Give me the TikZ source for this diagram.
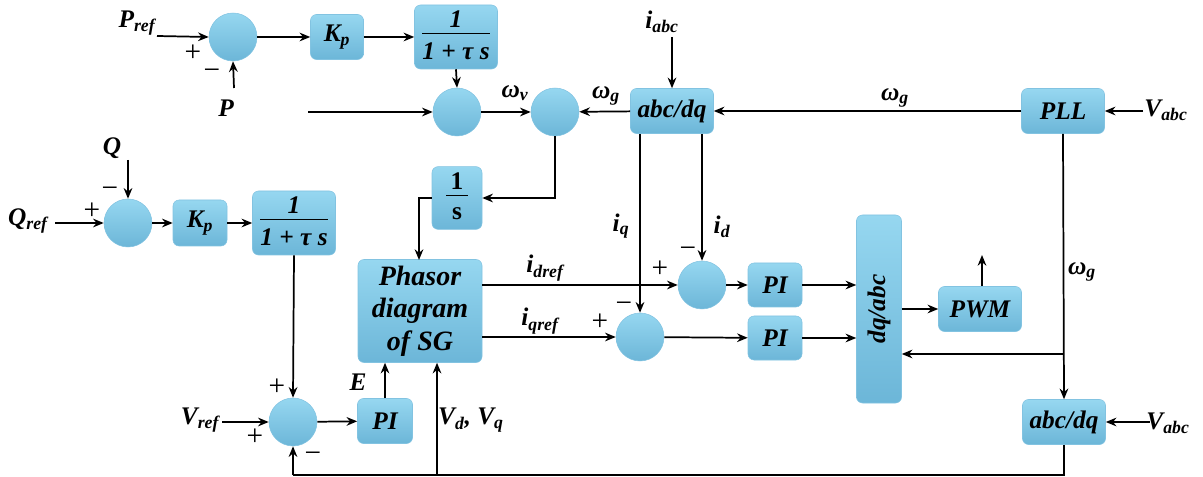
\documentclass[tikz,border=0pt]{standalone}
\usepackage{fontspec}
\setmainfont{Liberation Serif}
\usetikzlibrary{arrows.meta,calc}
\definecolor{boxtop}{RGB}{150,215,240}
\definecolor{boxbot}{RGB}{108,182,216}
\definecolor{boxedge}{RGB}{130,195,225}
\newcommand\dfont{\fontsize{19}{24}\selectfont\bfseries\itshape}
\newcommand\sgfont{\fontsize{22}{24}\selectfont}
\newcommand\sbx[1]{\textsubscript{#1}}
\newcommand\frc{{\setlength\arrayrulewidth{0.8pt}\begin{tabular}{@{}c@{}}1\\[-3pt]\hline\rule{0pt}{19pt}1 + τ s\end{tabular}}}
\begin{document}
\begin{tikzpicture}[x=0.75pt,y=-0.75pt,
  blk/.style={rounded corners=4.5pt, top color=boxtop, bottom color=boxbot, draw=boxedge, line width=0.4pt, inner sep=0pt, font=\dfont},
  sumc/.style={circle, minimum size=36pt, inner sep=0pt, top color=boxtop, bottom color=boxbot, draw=boxedge, line width=0.4pt},
  arr/.style={-{Stealth[length=8pt,width=6.5pt]}, line width=1.3pt},
  ln/.style={line width=1.3pt},
  lbl/.style={font=\dfont, inner sep=0pt},
  sgn/.style={font=\sgfont, inner sep=0pt}]
\useasboundingbox (0,0) rectangle (1203,477);
% sums
\node[sumc] (sP) at (233,37) {};
\node[sumc] (sW1) at (457,112) {};
\node[sumc] (sW2) at (555,112) {};
\node[sumc] (sQ) at (128,223) {};
\node[sumc] (sD) at (702,285) {};
\node[sumc] (sQq) at (640,337) {};
\node[sumc] (sV) at (293,422) {};
% blocks
\node[blk, minimum width=39.75pt, minimum height=33.75pt] (kp1) at (337,37) {K\sbx{p}};
\node[blk, minimum width=62.25pt, minimum height=45pt] (tf1) at (456,37) {\frc};
\node[blk, minimum width=62.25pt, minimum height=33.75pt] (abc1) at (672,111) {abc/dq};
\node[blk, minimum width=62.25pt, minimum height=33.75pt] (pll) at (1063,111) {PLL};
\node[blk, minimum width=37.5pt, minimum height=45pt, font=\fontsize{19}{24}\selectfont\bfseries] (invs) at (457,198) {{\setlength\arrayrulewidth{0.8pt}\begin{tabular}{@{\,}c@{\,}}1\\[-3pt]\hline\rule{0pt}{18pt}s\end{tabular}}};
\node[blk, minimum width=93pt, minimum height=77.25pt, align=center, font=\fontsize{21}{24.5}\selectfont\bfseries\itshape] (ph) at (420,311) {Phasor\\diagram\\of SG};
\node[blk, minimum width=40.5pt, minimum height=33pt] (pi1) at (775,285) {PI};
\node[blk, minimum width=40.5pt, minimum height=33pt] (pi2) at (775,338) {PI};
\node[blk, minimum width=33.75pt, minimum height=141pt] (dq) at (879,309) {};
\node[lbl, rotate=90] (dqt) at (dq) {dq/abc};
\node[blk, minimum width=62.25pt, minimum height=33.75pt] (pwm) at (980,309) {PWM};
\node[blk, minimum width=62.25pt, minimum height=33.75pt] (abc2) at (1064,422) {abc/dq};
\node[blk, minimum width=40.5pt, minimum height=34.5pt] (kp2) at (200,223) {K\sbx{p}};
\node[blk, minimum width=62.25pt, minimum height=45pt] (tf2) at (294,223) {\frc};
\node[blk, minimum width=41.25pt, minimum height=33.75pt] (pi3) at (385,421) {PI};
% free ends
\coordinate (pref) at (157,36);
\coordinate (pin) at (234,88);
\coordinate (win) at (308,112);
\coordinate (iabc) at (672,37);
\coordinate (vabc1) at (1143,111);
\coordinate (pwmo) at (982,255);
\coordinate (vabc2) at (1150,422);
\coordinate (qin) at (128,160);
\coordinate (qref) at (55,223);
\coordinate (vref) at (222,422);
\coordinate (br1) at (1063,354);
\coordinate (bot) at (1064,475);
\coordinate (br2) at (437,475);
% labels
\node[lbl] at (137,23) {P\sbx{ref}};
\node[lbl] at (226,108) {P};
\node[lbl] at (515,93) {ω\sbx{v}};
\node[lbl] at (606,96) {ω\sbx{g}};
\node[lbl] at (662,22) {i\sbx{abc}};
\node[lbl] at (895,98) {ω\sbx{g}};
\node[lbl] at (1166,110) {V\sbx{abc}};
\node[lbl] at (545,268) {i\sbx{dref}};
\node[lbl] at (540,321) {i\sbx{qref}};
\node[lbl] at (621,226) {i\sbx{q}};
\node[lbl] at (722,227) {i\sbx{d}};
\node[lbl] at (1082,272) {ω\sbx{g}};
\node[lbl] at (1168,423) {V\sbx{abc}};
\node[lbl] at (112,148) {Q};
\node[lbl] at (28,221) {Q\sbx{ref}};
\node[lbl] at (200,420) {V\sbx{ref}};
\node[lbl] at (358,382) {E};
\node[lbl] at (471,420) {V\sbx{d}, V\sbx{q}};
% signs
\node[sgn] at (193,53) {+};
\node[sgn] at (212,74) {−};
\node[sgn] at (110,192) {−};
\node[sgn] at (92,211) {+};
\node[sgn] at (660,269) {+};
\node[sgn] at (688,252) {−};
\node[sgn] at (600,322) {+};
\node[sgn] at (624,307) {−};
\node[sgn] at (277,387) {+};
\node[sgn] at (255,437) {+};
\node[sgn] at (313,457) {−};
% connectors
\draw[arr] (pref) -- (sP.west);
\draw[arr] (pin) -- (sP.south);
\draw[arr] (sP) -- (kp1);
\draw[arr] (kp1) -- (tf1);
\draw[arr] (tf1.south) -- (sW1.north);
\draw[arr] (win) -- (sW1.west);
\draw[arr] (sW1) -- (sW2);
\draw[arr] (abc1) -- (sW2);
\draw[arr] (iabc) -- (abc1.north);
\draw[arr] (pll) -- (abc1);
\draw[arr] (vabc1) -- (pll.east);
\draw[arr] (sW2.south) |- (invs.east);
\draw[arr] (invs.west) -| (419,260);
\draw[arr] (ph.east |- sD) -- (sD.west);
\draw[arr] (ph.east |- sQq) -- (sQq.west);
\draw[arr] (abc1.south -| sQq) -- (sQq.north);
\draw[arr] (abc1.south -| sD) -- (sD.north);
\draw[arr] (sD) -- (pi1);
\draw[arr] (sQq) -- (pi2);
\draw[arr] (pi1) -- (pi1 -| dq.west);
\draw[arr] (pi2) -- (pi2 -| dq.west);
\draw[arr] (dq) -- (pwm);
\draw[arr] (pwm.north -| pwmo) -- (pwmo);
\draw[arr] (pll.south) -- (abc2.north);
\draw[arr] (br1) -- (br1 -| dq.east);
\draw[arr] (vabc2) -- (abc2.east);
\draw[ln] (abc2.south) -- (bot) -- (bot -| sV);
\draw[arr] (bot -| sV) -- (sV.south);
\draw[arr] (br2) -- (br2 |- ph.south);
\draw[arr] (qin) -- (sQ.north);
\draw[arr] (qref) -- (sQ.west);
\draw[arr] (sQ) -- (kp2);
\draw[arr] (kp2) -- (tf2);
\draw[arr] (tf2.south) -- (sV.north);
\draw[arr] (vref) -- (sV.west);
\draw[arr] (sV) -- (pi3);
\draw[arr] (pi3.north) -- (ph.south -| pi3);
\end{tikzpicture}
\end{document}
